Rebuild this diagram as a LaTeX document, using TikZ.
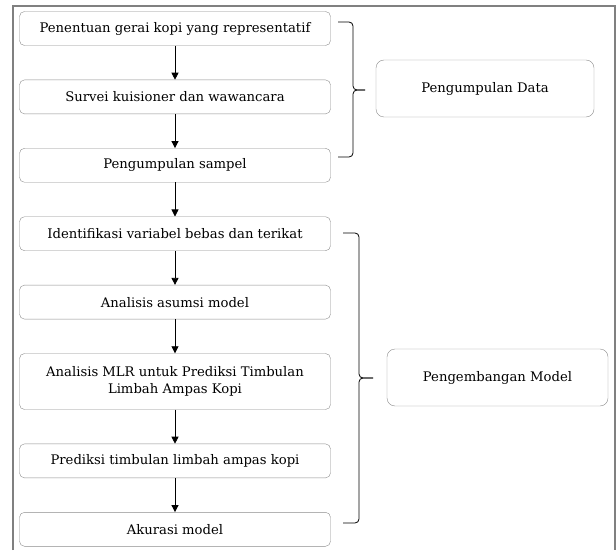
\documentclass[tikz,border=0pt]{standalone}
\usepackage{fontspec}
\setmainfont{DejaVu Serif}
\usetikzlibrary{arrows.meta, positioning}

\begin{document}
\begin{tikzpicture}[
    x=1pt, y=1pt,
    node distance=34pt,
    every node/.style={font=\fontsize{13.2}{16.5}\selectfont, align=center},
    proc/.style={draw=black!45, rounded corners=5pt, minimum width=311pt, minimum height=34pt},
    group/.style={draw=black!45, rounded corners=8pt, minimum height=57pt},
    arrow/.style={-{Triangle[length=7pt, width=7pt]}, thick},
    bracket/.style={line width=0.8pt, rounded corners=4pt}
]
\useasboundingbox (0,0) rectangle (616,550);
\draw[black!50, line width=1.2pt] (13,0) -- (13,544) -- (615,544) -- (615,0);

\node[proc] (s1) at (175,521.5) {Penentuan gerai kopi yang representatif};
\node[proc, below=of s1] (s2) {Survei kuisioner dan wawancara};
\node[proc, below=of s2] (s3) {Pengumpulan sampel};
\node[proc, below=of s3] (s4) {Identifikasi variabel bebas dan terikat};
\node[proc, below=of s4] (s5) {Analisis asumsi model};
\node[proc, below=of s5, minimum height=56pt] (s6) {Analisis MLR untuk Prediksi Timbulan\\Limbah Ampas Kopi};
\node[proc, below=of s6] (s7) {Prediksi timbulan limbah ampas kopi};
\node[proc, below=of s7] (s8) {Akurasi model};

\node[group, minimum width=218pt] (g1) at (485,461.5) {Pengumpulan Data};
\node[group, minimum width=221pt] (g2) at (497.5,172.5) {Pengembangan Model};

\draw[arrow] (s1) -- (s2);
\draw[arrow] (s2) -- (s3);
\draw[arrow] (s3) -- (s4);
\draw[arrow] (s4) -- (s5);
\draw[arrow] (s5) -- (s6);
\draw[arrow] (s6) -- (s7);
\draw[arrow] (s7) -- (s8);

% brackets
\draw[bracket] (338,528) -| (353,460) -- (365,460);
\draw[bracket] (338,393) -| (353,460) -- (365,460);
\draw[bracket] (343,317) -| (359,172) -- (373,172);
\draw[bracket] (343,27) -| (359,172) -- (373,172);
\end{tikzpicture}
\end{document}
